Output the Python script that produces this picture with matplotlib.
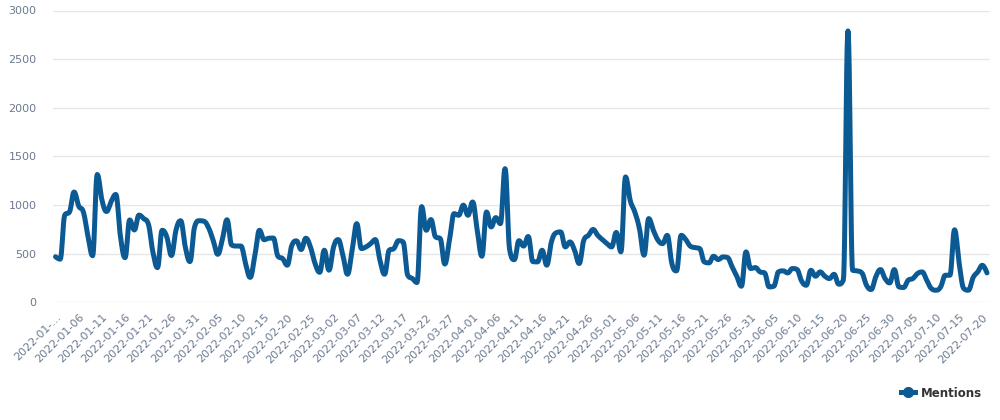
import numpy as np
import pandas as pd
import matplotlib
matplotlib.use('Agg')
import matplotlib.pyplot as plt
from matplotlib.lines import Line2D

# daily mentions, 2022-01-01 .. 2022-07-21
start_date = '2022-01-01'
mentions = [
    470, 445, 900, 930, 1135, 990, 930, 680, 480, 1315,
    1055, 935, 1037, 1110, 680, 460, 848, 745, 898, 862,
    810, 520, 358, 742, 675, 483, 745, 840, 570, 420,
    776, 840, 835, 770, 640, 495, 650, 850, 590, 580,
    580, 400, 258, 480, 742, 645, 660, 662, 474, 451,
    383, 588, 633, 544, 660, 571, 400, 310, 537, 332,
    571, 646, 486, 290, 537, 810, 554, 571, 605, 646,
    434, 290, 537, 554, 635, 622, 280, 246, 205, 985,
    742, 852, 674, 657, 395, 640, 913, 896, 1000, 896,
    1033, 742, 475, 930, 776, 872, 810, 1375, 540, 440,
    635, 580, 678, 420, 417, 537, 383, 622, 715, 725,
    571, 622, 537, 400, 640, 690, 750, 690, 646, 605,
    571, 720, 520, 1290, 1050, 930, 760, 486, 862, 742,
    640, 605, 690, 400, 325, 690, 646, 578, 564, 554,
    417, 407, 475, 441, 468, 462, 366, 270, 167, 520,
    349, 359, 315, 304, 160, 167, 315, 325, 304, 349,
    339, 220, 177, 331, 270, 314, 270, 246, 290, 188,
    230, 2790, 331, 324, 304, 177, 133, 263, 338, 246,
    201, 338, 160, 154, 229, 246, 297, 314, 229, 143,
    126, 160, 280, 280, 747, 400, 143, 126, 256, 314,
    382, 304,
]
series_name = 'Mentions'
y_ticks = [0, 500, 1000, 1500, 2000, 2500, 3000]

dates = pd.date_range(start_date, periods=len(mentions), freq='D')
labels = [d.strftime('%Y-%m-%d') for d in dates]
labels[0] = '2022-01-…'


def spline_path(xs, ys, smoothing=1.5, n=12):
    # highcharts-style spline: cubic bezier between points
    xs = np.asarray(xs, float)
    ys = np.asarray(ys, float)
    m = len(xs)
    lc = np.zeros((m, 2))
    rc = np.zeros((m, 2))
    for i in range(m):
        lc[i] = rc[i] = (xs[i], ys[i])
        if i == 0 or i == m - 1:
            continue
        denom = smoothing + 1
        lx = (smoothing * xs[i] + xs[i - 1]) / denom
        ly = (smoothing * ys[i] + ys[i - 1]) / denom
        rx = (smoothing * xs[i] + xs[i + 1]) / denom
        ry = (smoothing * ys[i] + ys[i + 1]) / denom
        corr = 0
        if rx != lx:
            corr = (ry - ly) * (rx - xs[i]) / (rx - lx) + ys[i] - ry
        ly += corr
        ry += corr
        if ly > ys[i - 1] and ly > ys[i]:
            ly = max(ys[i - 1], ys[i])
            ry = 2 * ys[i] - ly
        elif ly < ys[i - 1] and ly < ys[i]:
            ly = min(ys[i - 1], ys[i])
            ry = 2 * ys[i] - ly
        if ry > ys[i + 1] and ry > ys[i]:
            ry = max(ys[i + 1], ys[i])
            ly = 2 * ys[i] - ry
        elif ry < ys[i + 1] and ry < ys[i]:
            ry = min(ys[i + 1], ys[i])
            ly = 2 * ys[i] - ry
        lc[i] = (lx, ly)
        rc[i] = (rx, ry)
    t = np.linspace(0, 1, n, endpoint=False)[:, None]
    out = []
    for i in range(1, m):
        p0 = np.array([xs[i - 1], ys[i - 1]])
        p1 = rc[i - 1]
        p2 = lc[i]
        p3 = np.array([xs[i], ys[i]])
        seg = ((1 - t) ** 3) * p0 + 3 * ((1 - t) ** 2) * t * p1 + 3 * (1 - t) * t ** 2 * p2 + t ** 3 * p3
        out.append(seg)
    out.append(np.array([[xs[-1], ys[-1]]]))
    out = np.vstack(out)
    return out[:, 0], out[:, 1]


fig = plt.figure(figsize=(10, 4.2), dpi=100)
ax = fig.add_axes([0.053, 0.2798, 0.937, 0.6952])

line_color = '#0c5a94'
x = np.arange(len(mentions))
sx, sy = spline_path(x, mentions)
ax.plot(sx, sy, color=line_color, lw=3.6, solid_capstyle='round', solid_joinstyle='round', zorder=3)

ax.set_xlim(-0.55, len(mentions) - 1 + 0.65)
ax.set_ylim(0, 3000)
ax.set_yticks(y_ticks)
ax.grid(axis='y', color='#e6e6e6', lw=1)
ax.set_axisbelow(True)
for s in ax.spines.values():
    s.set_visible(False)

tick_pos = x[::5]
ax.set_xticks(tick_pos)
ax.set_xticklabels([labels[i] for i in tick_pos])
ax.tick_params(axis='x', length=0, pad=7, labelsize=8, labelcolor='#6b7a90')
ax.tick_params(axis='y', length=0, pad=12, labelsize=8, labelcolor='#6b7a90')
plt.setp(ax.get_xticklabels(), rotation=45, ha='right', rotation_mode='anchor')

handle = Line2D([0], [0], color=line_color, lw=3.6, marker='o', markersize=7)
fig.legend([handle], [series_name], loc='center right', bbox_to_anchor=(0.993, 0.064),
           frameon=False, handlelength=1.2, handletextpad=0.5,
           prop={'weight': 'bold', 'size': 8.5}, labelcolor='#333333')

fig.savefig('out.png', dpi=100)
